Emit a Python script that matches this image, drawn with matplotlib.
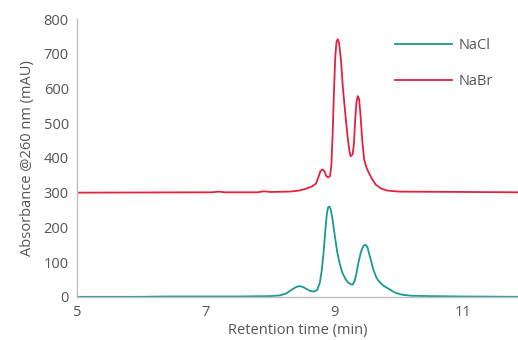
import matplotlib.pyplot as plt

# retention time (min) and absorbance (mAU)
nacl_t = [5.0, 6.0, 6.4, 7.0, 7.5, 8.0, 8.15, 8.25, 8.33, 8.4, 8.45, 8.5, 8.56,
          8.62, 8.68, 8.73, 8.77, 8.8, 8.83, 8.86, 8.88, 8.9, 8.92, 8.94, 8.97,
          9.0, 9.04, 9.08, 9.12, 9.16, 9.2, 9.25, 9.28, 9.31, 9.34, 9.37, 9.41,
          9.45, 9.48, 9.51, 9.55, 9.6, 9.65, 9.7, 9.76, 9.85, 9.94, 10.05, 10.2,
          10.5, 11.0, 11.85]
nacl_a = [0, 0, 1, 1, 1, 2, 4, 10, 20, 28, 31, 29, 23,
          17, 15, 20, 40, 75, 130, 200, 240, 258, 260, 252, 220,
          180, 130, 95, 70, 54, 43, 36, 35, 45, 68, 98, 130,
          147, 150, 143, 115, 80, 55, 42, 32, 22, 12, 6, 3,
          2, 1, 0]

nabr_t = [5.0, 7.1, 7.2, 7.3, 7.8, 7.9, 8.0, 8.3, 8.45, 8.55, 8.65, 8.71, 8.75,
          8.78, 8.81, 8.84, 8.87, 8.9, 8.93, 8.95, 8.97, 8.99, 9.01, 9.03, 9.05,
          9.07, 9.1, 9.13, 9.17, 9.2, 9.23, 9.25, 9.28, 9.3, 9.32, 9.34, 9.36,
          9.38, 9.4, 9.43, 9.46, 9.5, 9.53, 9.58, 9.64, 9.72, 9.82, 10.0, 11.0,
          11.85]
nabr_a = [300, 301, 303, 301, 301, 304, 302, 303, 306, 311, 318, 326, 345,
          362, 367, 362, 348, 344, 348, 380, 470, 590, 690, 735, 742,
          730, 680, 600, 520, 465, 420, 405, 410, 440, 510, 560, 578,
          570, 530, 450, 395, 370, 358, 340, 323, 312, 306, 303, 302,
          301]

x_ticks = [5, 7, 9, 11]
y_ticks = [0, 100, 200, 300, 400, 500, 600, 700, 800]

plt.rcParams['font.family'] = ['Open Sans', 'DejaVu Sans']
txt = '#555555'

fig = plt.figure(figsize=(5.18, 3.40), dpi=100)
ax = fig.add_axes([0.149, 0.127, 0.851, 0.817])

ax.plot(nacl_t, nacl_a, color='#1a9a8e', lw=1.3, label='NaCl')
ax.plot(nabr_t, nabr_a, color='#e5213f', lw=1.3, label='NaBr')

ax.set_xlim(5, 11.85)
ax.set_ylim(0, 800)
ax.set_xticks(x_ticks)
ax.set_yticks(y_ticks)
ax.tick_params(length=0, labelsize=10.5, labelcolor=txt, pad=6)
for s in ['top', 'right']:
    ax.spines[s].set_visible(False)
for s in ['left', 'bottom']:
    ax.spines[s].set_color('#c0c0c0')
    ax.spines[s].set_linewidth(1)

ax.set_xlabel('Retention time (min)', fontsize=10.5, color=txt, labelpad=2)
ax.set_ylabel('Absorbance @260 nm (mAU)', fontsize=10.5, color=txt, labelpad=6)

leg = ax.legend(loc='upper right', bbox_to_anchor=(0.972, 0.978), frameon=False,
                handlelength=3.9, handletextpad=0.4, labelspacing=1.45,
                fontsize=10.5)
for t in leg.get_texts():
    t.set_color(txt)

fig.savefig('out.png', dpi=100)
